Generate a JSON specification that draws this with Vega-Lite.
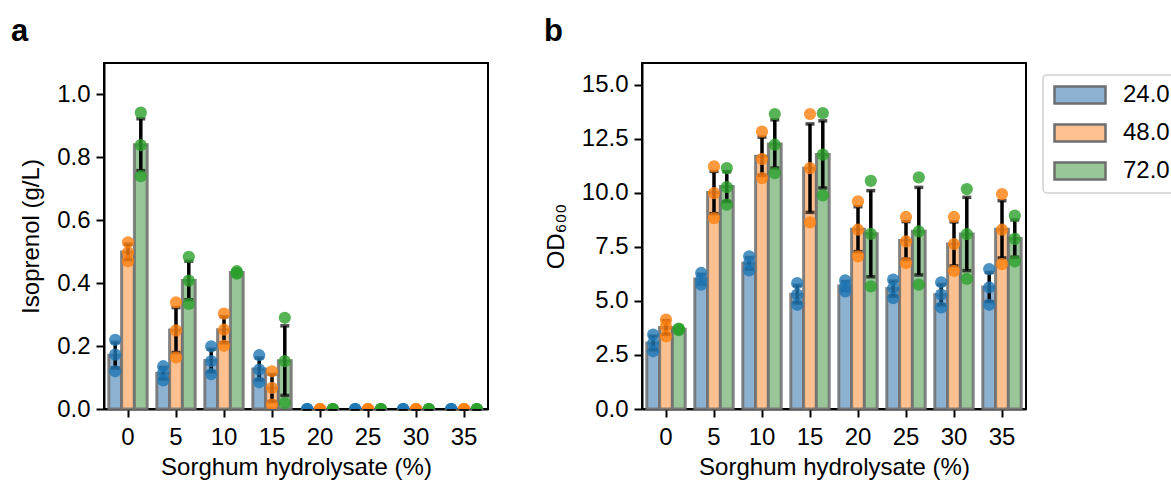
{
  "$schema": "https://vega.github.io/schema/vega-lite/v6.json",
  "padding": {"left": 10, "top": 15, "right": 0, "bottom": 0},
  "background": "white",
  "datasets": {
    "iso": [
      {"sorghum": 0, "time": "24.0", "value": 0.22}, {"sorghum": 0, "time": "24.0", "value": 0.173}, {"sorghum": 0, "time": "24.0", "value": 0.12},
      {"sorghum": 0, "time": "48.0", "value": 0.53}, {"sorghum": 0, "time": "48.0", "value": 0.498}, {"sorghum": 0, "time": "48.0", "value": 0.47},
      {"sorghum": 0, "time": "72.0", "value": 0.942}, {"sorghum": 0, "time": "72.0", "value": 0.839}, {"sorghum": 0, "time": "72.0", "value": 0.74},
      {"sorghum": 5, "time": "24.0", "value": 0.136}, {"sorghum": 5, "time": "24.0", "value": 0.115}, {"sorghum": 5, "time": "24.0", "value": 0.091},
      {"sorghum": 5, "time": "48.0", "value": 0.339}, {"sorghum": 5, "time": "48.0", "value": 0.25}, {"sorghum": 5, "time": "48.0", "value": 0.164},
      {"sorghum": 5, "time": "72.0", "value": 0.484}, {"sorghum": 5, "time": "72.0", "value": 0.408}, {"sorghum": 5, "time": "72.0", "value": 0.334},
      {"sorghum": 10, "time": "24.0", "value": 0.199}, {"sorghum": 10, "time": "24.0", "value": 0.152}, {"sorghum": 10, "time": "24.0", "value": 0.111},
      {"sorghum": 10, "time": "48.0", "value": 0.303}, {"sorghum": 10, "time": "48.0", "value": 0.252}, {"sorghum": 10, "time": "48.0", "value": 0.201},
      {"sorghum": 10, "time": "72.0", "value": 0.438}, {"sorghum": 10, "time": "72.0", "value": 0.433}, {"sorghum": 10, "time": "72.0", "value": 0.43},
      {"sorghum": 15, "time": "24.0", "value": 0.171}, {"sorghum": 15, "time": "24.0", "value": 0.125}, {"sorghum": 15, "time": "24.0", "value": 0.085},
      {"sorghum": 15, "time": "48.0", "value": 0.12}, {"sorghum": 15, "time": "48.0", "value": 0.067}, {"sorghum": 15, "time": "48.0", "value": 0.014},
      {"sorghum": 15, "time": "72.0", "value": 0.29}, {"sorghum": 15, "time": "72.0", "value": 0.152}, {"sorghum": 15, "time": "72.0", "value": 0.019},
      {"sorghum": 20, "time": "24.0", "value": 0}, {"sorghum": 20, "time": "24.0", "value": 0}, {"sorghum": 20, "time": "24.0", "value": 0},
      {"sorghum": 20, "time": "48.0", "value": 0}, {"sorghum": 20, "time": "48.0", "value": 0}, {"sorghum": 20, "time": "48.0", "value": 0},
      {"sorghum": 20, "time": "72.0", "value": 0}, {"sorghum": 20, "time": "72.0", "value": 0}, {"sorghum": 20, "time": "72.0", "value": 0},
      {"sorghum": 25, "time": "24.0", "value": 0}, {"sorghum": 25, "time": "24.0", "value": 0}, {"sorghum": 25, "time": "24.0", "value": 0},
      {"sorghum": 25, "time": "48.0", "value": 0}, {"sorghum": 25, "time": "48.0", "value": 0}, {"sorghum": 25, "time": "48.0", "value": 0},
      {"sorghum": 25, "time": "72.0", "value": 0}, {"sorghum": 25, "time": "72.0", "value": 0}, {"sorghum": 25, "time": "72.0", "value": 0},
      {"sorghum": 30, "time": "24.0", "value": 0}, {"sorghum": 30, "time": "24.0", "value": 0}, {"sorghum": 30, "time": "24.0", "value": 0},
      {"sorghum": 30, "time": "48.0", "value": 0}, {"sorghum": 30, "time": "48.0", "value": 0}, {"sorghum": 30, "time": "48.0", "value": 0},
      {"sorghum": 30, "time": "72.0", "value": 0}, {"sorghum": 30, "time": "72.0", "value": 0}, {"sorghum": 30, "time": "72.0", "value": 0},
      {"sorghum": 35, "time": "24.0", "value": 0}, {"sorghum": 35, "time": "24.0", "value": 0}, {"sorghum": 35, "time": "24.0", "value": 0},
      {"sorghum": 35, "time": "48.0", "value": 0}, {"sorghum": 35, "time": "48.0", "value": 0}, {"sorghum": 35, "time": "48.0", "value": 0},
      {"sorghum": 35, "time": "72.0", "value": 0}, {"sorghum": 35, "time": "72.0", "value": 0}, {"sorghum": 35, "time": "72.0", "value": 0}
    ],
    "od": [
      {"sorghum": 0, "time": "24.0", "value": 3.44}, {"sorghum": 0, "time": "24.0", "value": 3.05}, {"sorghum": 0, "time": "24.0", "value": 2.67},
      {"sorghum": 0, "time": "48.0", "value": 4.13}, {"sorghum": 0, "time": "48.0", "value": 3.82}, {"sorghum": 0, "time": "48.0", "value": 3.36},
      {"sorghum": 0, "time": "72.0", "value": 3.72}, {"sorghum": 0, "time": "72.0", "value": 3.65}, {"sorghum": 0, "time": "72.0", "value": 3.68},
      {"sorghum": 5, "time": "24.0", "value": 6.29}, {"sorghum": 5, "time": "24.0", "value": 5.98}, {"sorghum": 5, "time": "24.0", "value": 5.75},
      {"sorghum": 5, "time": "48.0", "value": 11.22}, {"sorghum": 5, "time": "48.0", "value": 9.98}, {"sorghum": 5, "time": "48.0", "value": 8.83},
      {"sorghum": 5, "time": "72.0", "value": 11.14}, {"sorghum": 5, "time": "72.0", "value": 10.26}, {"sorghum": 5, "time": "72.0", "value": 9.45},
      {"sorghum": 10, "time": "24.0", "value": 7.06}, {"sorghum": 10, "time": "24.0", "value": 6.75}, {"sorghum": 10, "time": "24.0", "value": 6.41},
      {"sorghum": 10, "time": "48.0", "value": 12.83}, {"sorghum": 10, "time": "48.0", "value": 11.56}, {"sorghum": 10, "time": "48.0", "value": 10.68},
      {"sorghum": 10, "time": "72.0", "value": 13.64}, {"sorghum": 10, "time": "72.0", "value": 12.22}, {"sorghum": 10, "time": "72.0", "value": 10.91},
      {"sorghum": 15, "time": "24.0", "value": 5.82}, {"sorghum": 15, "time": "24.0", "value": 5.29}, {"sorghum": 15, "time": "24.0", "value": 4.82},
      {"sorghum": 15, "time": "48.0", "value": 13.64}, {"sorghum": 15, "time": "48.0", "value": 11.14}, {"sorghum": 15, "time": "48.0", "value": 8.63},
      {"sorghum": 15, "time": "72.0", "value": 13.68}, {"sorghum": 15, "time": "72.0", "value": 11.76}, {"sorghum": 15, "time": "72.0", "value": 9.88},
      {"sorghum": 20, "time": "24.0", "value": 5.95}, {"sorghum": 20, "time": "24.0", "value": 5.67}, {"sorghum": 20, "time": "24.0", "value": 5.44},
      {"sorghum": 20, "time": "48.0", "value": 9.6}, {"sorghum": 20, "time": "48.0", "value": 8.29}, {"sorghum": 20, "time": "48.0", "value": 7.06},
      {"sorghum": 20, "time": "72.0", "value": 10.55}, {"sorghum": 20, "time": "72.0", "value": 8.1}, {"sorghum": 20, "time": "72.0", "value": 5.67},
      {"sorghum": 25, "time": "24.0", "value": 5.98}, {"sorghum": 25, "time": "24.0", "value": 5.59}, {"sorghum": 25, "time": "24.0", "value": 5.13},
      {"sorghum": 25, "time": "48.0", "value": 8.88}, {"sorghum": 25, "time": "48.0", "value": 7.75}, {"sorghum": 25, "time": "48.0", "value": 6.75},
      {"sorghum": 25, "time": "72.0", "value": 10.71}, {"sorghum": 25, "time": "72.0", "value": 8.21}, {"sorghum": 25, "time": "72.0", "value": 5.75},
      {"sorghum": 30, "time": "24.0", "value": 5.86}, {"sorghum": 30, "time": "24.0", "value": 5.29}, {"sorghum": 30, "time": "24.0", "value": 4.7},
      {"sorghum": 30, "time": "48.0", "value": 8.88}, {"sorghum": 30, "time": "48.0", "value": 7.63}, {"sorghum": 30, "time": "48.0", "value": 6.39},
      {"sorghum": 30, "time": "72.0", "value": 10.17}, {"sorghum": 30, "time": "72.0", "value": 8.09}, {"sorghum": 30, "time": "72.0", "value": 6.02},
      {"sorghum": 35, "time": "24.0", "value": 6.47}, {"sorghum": 35, "time": "24.0", "value": 5.62}, {"sorghum": 35, "time": "24.0", "value": 4.82},
      {"sorghum": 35, "time": "48.0", "value": 9.94}, {"sorghum": 35, "time": "48.0", "value": 8.29}, {"sorghum": 35, "time": "48.0", "value": 6.7},
      {"sorghum": 35, "time": "72.0", "value": 8.94}, {"sorghum": 35, "time": "72.0", "value": 7.87}, {"sorghum": 35, "time": "72.0", "value": 6.83}
    ]
  },
  "config": {
    "font": "Liberation Sans",
    "view": {"stroke": "black", "strokeWidth": 2},
    "axis": {"grid": false, "domainColor": "black", "domainWidth": 2, "tickColor": "black", "tickWidth": 2, "tickSize": 8, "labelColor": "black", "labelFontSize": 24, "labelFont": "Liberation Sans", "titleFont": "Liberation Sans", "titleFontSize": 24, "titleFontWeight": "normal", "titleColor": "black", "labelPadding": 6},
    "axisX": {"labelAngle": 0, "titlePadding": 6, "labelPadding": 8},
    "axisY": {"titlePadding": 13},
    "legend": {"strokeWidth": 1.5},
    "title": {"font": "Liberation Sans", "fontSize": 31, "fontWeight": "bold", "anchor": "start", "frame": "group", "baseline": "alphabetic", "offset": 15, "color": "black"}
  },
  "spacing": 154,
  "bounds": "flush",
  "hconcat": [
    {
      "width": 384, "height": 346,
      "data": {"name": "iso"},
      "title": {"text": "a", "dx": -93},
      "layer": [
        {
          "mark": {"type": "bar", "stroke": "#6e6e6e", "strokeWidth": 3, "strokeOpacity": 0.85},
          "encoding": {
            "x": {"field": "sorghum", "type": "ordinal", "scale": {"paddingInner": 0, "paddingOuter": 0}, "title": "Sorghum hydrolysate (%)"},
            "xOffset": {"field": "time", "type": "nominal", "scale": {"paddingInner": 0, "paddingOuter": 0.375}},
            "y": {"aggregate": "mean", "field": "value", "type": "quantitative", "scale": {"domain": [0, 1.1], "nice": false}, "axis": {"values": [0, 0.2, 0.4, 0.6, 0.8, 1.0], "format": ".1f"}, "title": "Isoprenol (g/L)"},
            "fill": {"field": "time", "type": "nominal", "scale": {"domain": ["24.0", "48.0", "72.0"], "range": ["#8db1d1", "#fec08f", "#99c699"]},
              "legend": {"orient": "none", "legendX": 939, "legendY": 12, "title": null, "padding": 8, "strokeColor": "#d0d0d0", "cornerRadius": 4, "fillColor": "white", "labelFontSize": 24, "labelFont": "Liberation Sans", "labelColor": "black", "symbolType": "M-1,-1H5V1H-1Z", "symbolSize": 289, "symbolStrokeColor": "#6e6e6e", "symbolStrokeWidth": 2.5, "symbolOpacity": 1, "rowPadding": 10, "labelOffset": 48}}
          }
        },
        {
          "transform": [{"aggregate": [{"op": "mean", "field": "value", "as": "mean"}, {"op": "stdevp", "field": "value", "as": "sd"}], "groupby": ["sorghum", "time"]}],
          "mark": {"type": "errorbar", "rule": {"strokeWidth": 3.5, "color": "black"}, "ticks": {"size": 9, "thickness": 3.5, "color": "black"}},
          "encoding": {
            "x": {"field": "sorghum", "type": "ordinal", "title": "Sorghum hydrolysate (%)"},
            "xOffset": {"field": "time", "type": "nominal"},
            "y": {"field": "mean", "type": "quantitative", "title": "Isoprenol (g/L)"},
            "yError": {"field": "sd"}
          }
        },
        {
          "mark": {"type": "point", "filled": true, "size": 150, "opacity": 0.8, "clip": true},
          "encoding": {
            "x": {"field": "sorghum", "type": "ordinal", "title": "Sorghum hydrolysate (%)"},
            "xOffset": {"field": "time", "type": "nominal"},
            "y": {"field": "value", "type": "quantitative", "title": "Isoprenol (g/L)"},
            "color": {"field": "time", "type": "nominal", "scale": {"domain": ["24.0", "48.0", "72.0"], "range": ["#1f77b4", "#ff7f0e", "#2ca02c"]}, "legend": null}
          }
        }
      ]
    },
    {
      "width": 384, "height": 346,
      "data": {"name": "od"},
      "title": {"text": "b", "dx": -98},
      "layer": [
        {
          "mark": {"type": "bar", "stroke": "#6e6e6e", "strokeWidth": 3, "strokeOpacity": 0.85},
          "encoding": {
            "x": {"field": "sorghum", "type": "ordinal", "scale": {"paddingInner": 0, "paddingOuter": 0}, "title": "Sorghum hydrolysate (%)"},
            "xOffset": {"field": "time", "type": "nominal", "scale": {"paddingInner": 0, "paddingOuter": 0.375}},
            "y": {"aggregate": "mean", "field": "value", "type": "quantitative", "scale": {"domain": [0, 16], "nice": false}, "axis": {"values": [0, 2.5, 5, 7.5, 10, 12.5, 15], "format": ".1f"}, "title": "OD₆₀₀"},
            "fill": {"field": "time", "type": "nominal", "scale": {"domain": ["24.0", "48.0", "72.0"], "range": ["#8db1d1", "#fec08f", "#99c699"]},
              "legend": {"orient": "none", "legendX": 939, "legendY": 12, "title": null, "padding": 8, "strokeColor": "#d0d0d0", "cornerRadius": 4, "fillColor": "white", "labelFontSize": 24, "labelFont": "Liberation Sans", "labelColor": "black", "symbolType": "M-1,-1H5V1H-1Z", "symbolSize": 289, "symbolStrokeColor": "#6e6e6e", "symbolStrokeWidth": 2.5, "symbolOpacity": 1, "rowPadding": 10, "labelOffset": 48}}
          }
        },
        {
          "transform": [{"aggregate": [{"op": "mean", "field": "value", "as": "mean"}, {"op": "stdevp", "field": "value", "as": "sd"}], "groupby": ["sorghum", "time"]}],
          "mark": {"type": "errorbar", "rule": {"strokeWidth": 3.5, "color": "black"}, "ticks": {"size": 9, "thickness": 3.5, "color": "black"}},
          "encoding": {
            "x": {"field": "sorghum", "type": "ordinal", "title": "Sorghum hydrolysate (%)"},
            "xOffset": {"field": "time", "type": "nominal"},
            "y": {"field": "mean", "type": "quantitative", "title": "OD₆₀₀"},
            "yError": {"field": "sd"}
          }
        },
        {
          "mark": {"type": "point", "filled": true, "size": 150, "opacity": 0.8, "clip": true},
          "encoding": {
            "x": {"field": "sorghum", "type": "ordinal", "title": "Sorghum hydrolysate (%)"},
            "xOffset": {"field": "time", "type": "nominal"},
            "y": {"field": "value", "type": "quantitative", "title": "OD₆₀₀"},
            "color": {"field": "time", "type": "nominal", "scale": {"domain": ["24.0", "48.0", "72.0"], "range": ["#1f77b4", "#ff7f0e", "#2ca02c"]}, "legend": null}
          }
        }
      ]
    }
  ]
}
